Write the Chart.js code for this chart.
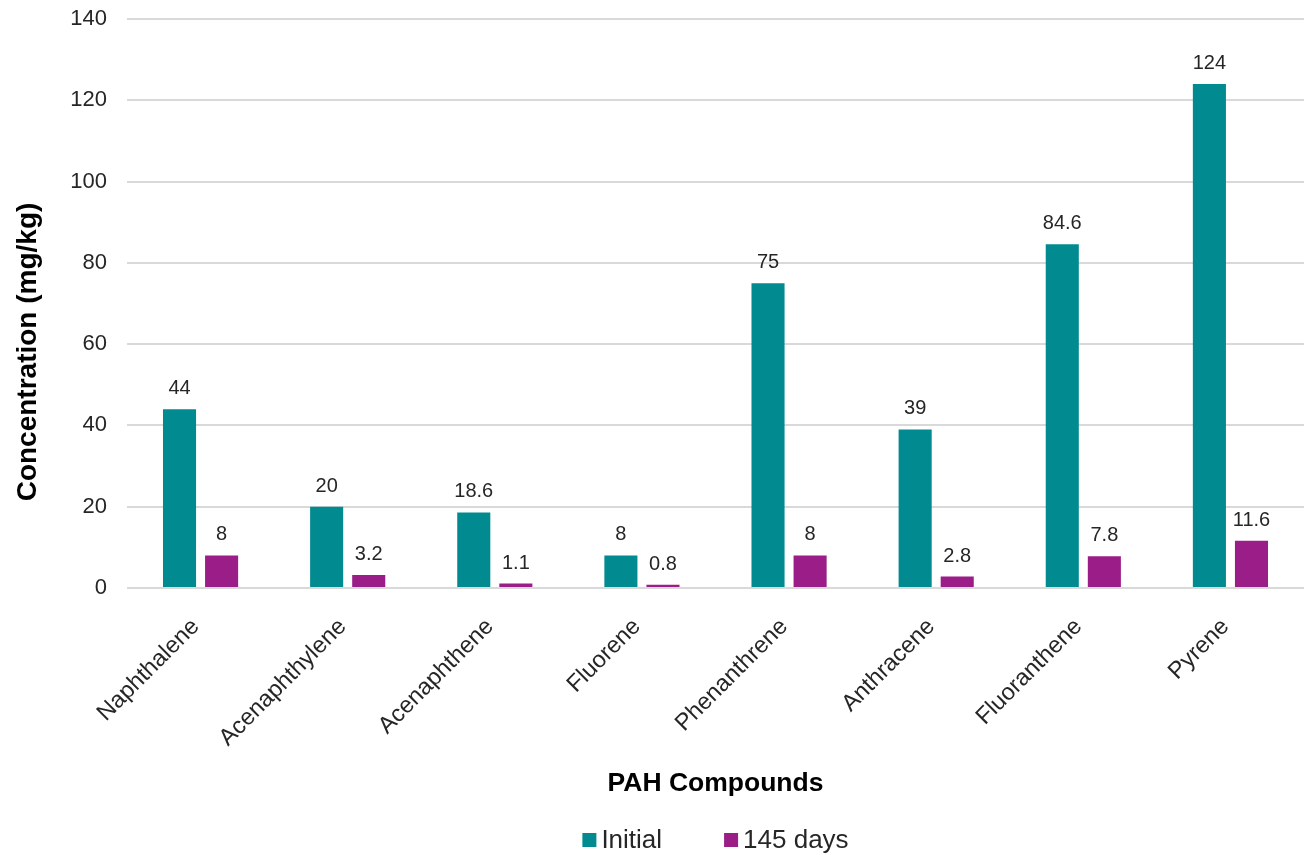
<!DOCTYPE html>
<html>
<head>
<meta charset="utf-8">
<title>PAH Compounds</title>
<script src="https://cdn.jsdelivr.net/npm/chart.js@4.4.0/dist/chart.umd.min.js"></script>
<style>
  html, body { margin: 0; padding: 0; background: #fff; }
  #wrap { width: 1304px; height: 855px; }
</style>
</head>
<body>
<div id="wrap"><canvas id="pahChart" width="1304" height="855"></canvas></div>
<script>
// PAH concentrations, mg/kg
const compounds = ['Naphthalene', 'Acenaphthylene', 'Acenaphthene', 'Fluorene', 'Phenanthrene', 'Anthracene', 'Fluoranthene', 'Pyrene'];
const initialValues = [44, 20, 18.6, 8, 75, 39, 84.6, 124];
const day145Values = [8, 3.2, 1.1, 0.8, 8, 2.8, 7.8, 11.6];
const seriesNames = ['Initial', '145 days'];
const seriesColors = ['#018a8f', '#9b1d88'];
const yTicks = [0, 20, 40, 60, 80, 100, 120, 140];
const yTitle = 'Concentration (mg/kg)';

const FONT = "'Liberation Sans', Arial, sans-serif";

// numbers above each bar
const valueLabels = {
    id: 'valueLabels',
    afterDatasetsDraw(chart) {
        const ctx = chart.ctx;
        ctx.save();
        ctx.font = '20px ' + FONT;
        ctx.fillStyle = '#262626';
        ctx.textAlign = 'center';
        ctx.textBaseline = 'alphabetic';
        chart.data.datasets.forEach((ds, i) => {
            const meta = chart.getDatasetMeta(i);
            meta.data.forEach((bar, j) => {
                ctx.fillText(String(ds.data[j]), bar.x, bar.y - 15);
            });
        });
        ctx.restore();
    }
};

// vertical axis title, sits a little below the plot's middle
const sideTitle = {
    id: 'sideTitle',
    afterDraw(chart) {
        const ctx = chart.ctx;
        ctx.save();
        ctx.translate(28, 352);
        ctx.rotate(-Math.PI / 2);
        ctx.font = 'bold 28px ' + FONT;
        ctx.fillStyle = '#000';
        ctx.textAlign = 'center';
        ctx.textBaseline = 'middle';
        ctx.fillText(yTitle, 0, 0);
        ctx.restore();
    }
};

// single-row legend under the axis title
const bottomLegend = {
    id: 'bottomLegend',
    afterDraw(chart) {
        const ctx = chart.ctx;
        const area = chart.chartArea;
        const box = 14, gap = 5, spacing = 62, y = 840;
        ctx.save();
        ctx.font = '26px ' + FONT;
        ctx.textBaseline = 'middle';
        ctx.textAlign = 'left';
        const items = chart.data.datasets.map(ds => ({
            text: ds.label,
            color: ds.backgroundColor,
            w: box + gap + ctx.measureText(ds.label).width
        }));
        const total = items.reduce((s, it) => s + it.w, 0) + spacing * (items.length - 1);
        let x = (area.left + area.right) / 2 - total / 2;
        items.forEach(it => {
            ctx.fillStyle = it.color;
            ctx.fillRect(x, y - box / 2, box, box);
            ctx.fillStyle = '#262626';
            ctx.fillText(it.text, x + box + gap, y + 1);
            x += it.w + spacing;
        });
        ctx.restore();
    }
};

const ctx = document.getElementById('pahChart').getContext('2d');
new Chart(ctx, {
    type: 'bar',
    data: {
        labels: compounds,
        datasets: [
            { label: seriesNames[0], data: initialValues, backgroundColor: seriesColors[0] },
            { label: seriesNames[1], data: day145Values, backgroundColor: seriesColors[1] }
        ]
    },
    options: {
        responsive: false,
        animation: false,
        devicePixelRatio: 1,
        layout: { padding: { top: 19, right: 0, bottom: 55, left: 0 } },
        datasets: {
            bar: { categoryPercentage: 0.572, barPercentage: 0.786 }
        },
        plugins: {
            legend: { display: false },
            tooltip: { enabled: false }
        },
        scales: {
            x: {
                grid: { display: false, drawTicks: false },
                border: { display: false },
                ticks: {
                    font: { family: FONT, size: 23.5 },
                    color: '#262626',
                    minRotation: 45,
                    maxRotation: 45,
                    autoSkip: false,
                    padding: 25,
                    labelOffset: -5
                },
                title: {
                    display: true,
                    text: 'PAH Compounds',
                    font: { family: FONT, size: 26.5, weight: 'bold' },
                    color: '#000',
                    padding: { top: 0, bottom: 0 }
                },
                afterFit(scale) { scale.height = 212; }
            },
            y: {
                min: yTicks[0],
                max: yTicks[yTicks.length - 1],
                afterBuildTicks(scale) { scale.ticks = yTicks.map(v => ({ value: v })); },
                grid: { color: '#d9d9d9', lineWidth: 2, drawTicks: false },
                border: { display: false },
                ticks: {
                    font: { family: FONT, size: 22 },
                    color: '#262626',
                    padding: 20
                },
                afterFit(scale) {
                    scale.width = 127;
                    scale.paddingTop = 0;
                }
            }
        }
    },
    plugins: [valueLabels, sideTitle, bottomLegend]
});
</script>
</body>
</html>
